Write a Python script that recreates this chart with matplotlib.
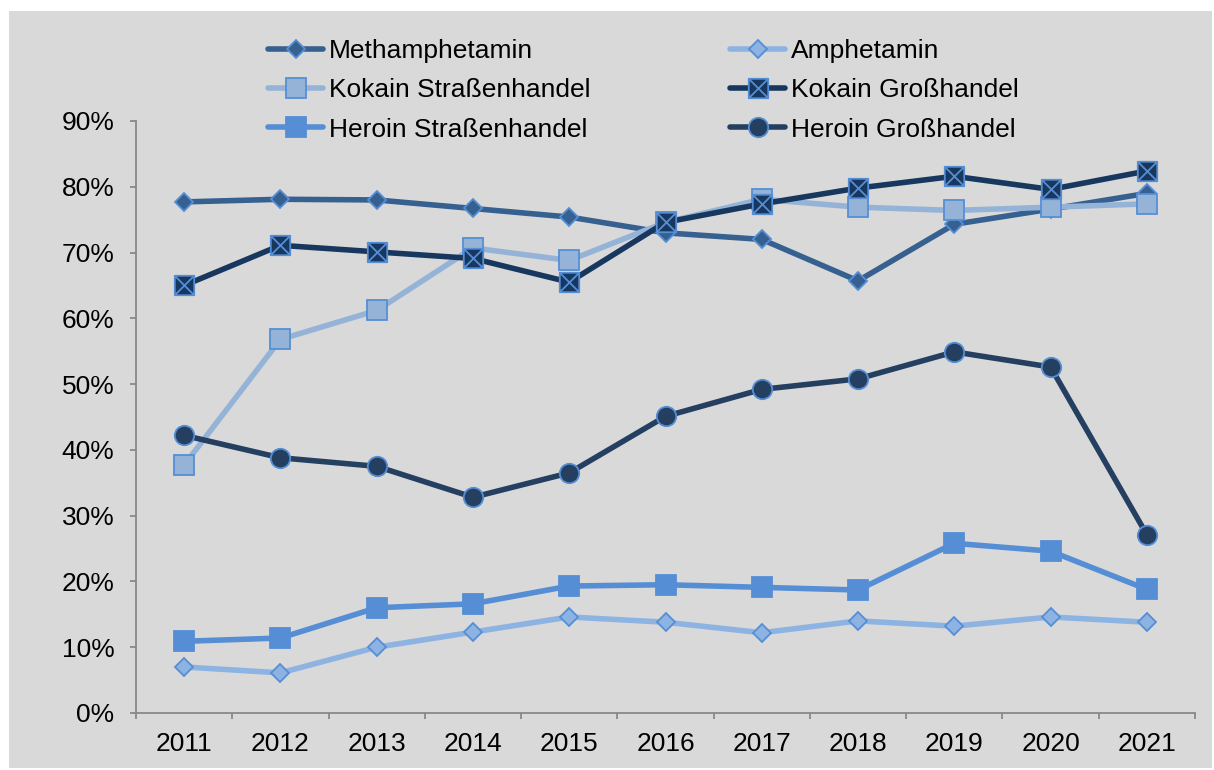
"""Purity of seized drugs 2011-2021 — line chart with six series."""
import matplotlib
matplotlib.use("Agg")
import matplotlib.pyplot as plt
from matplotlib.patches import Rectangle
from matplotlib.path import Path
from matplotlib.ticker import FuncFormatter

plt.rcParams["font.family"] = ["Liberation Sans", "DejaVu Sans"]

years = ["2011", "2012", "2013", "2014", "2015", "2016",
         "2017", "2018", "2019", "2020", "2021"]

methamphetamin = [77.7, 78.1, 78.0, 76.7, 75.4, 73.0, 72.0, 65.7, 74.3, 76.6, 79.0]
amphetamin = [7.0, 6.1, 10.0, 12.3, 14.6, 13.8, 12.2, 14.0, 13.2, 14.6, 13.8]
kokain_strasse = [37.7, 56.8, 61.2, 70.7, 68.8, 74.6, 78.1, 76.9, 76.4, 76.9, 77.4]
kokain_gross = [65.0, 71.1, 70.1, 69.1, 65.5, 74.6, 77.4, 79.8, 81.6, 79.6, 82.4]
heroin_strasse = [10.9, 11.4, 16.0, 16.6, 19.3, 19.5, 19.1, 18.7, 25.8, 24.6, 18.8]
heroin_gross = [42.2, 38.8, 37.5, 32.8, 36.5, 45.1, 49.2, 50.8, 54.9, 52.6, 27.1]

EDGE = "#558ed5"

# square with a cross through it (Kokain Großhandel marker)
_sq_x = Path(
    [(-1, -1), (1, -1), (1, 1), (-1, 1), (-1, -1),
     (-1, -1), (1, 1), (-1, 1), (1, -1)],
    [Path.MOVETO, Path.LINETO, Path.LINETO, Path.LINETO, Path.CLOSEPOLY,
     Path.MOVETO, Path.LINETO, Path.MOVETO, Path.LINETO],
)

series = [
    ("Methamphetamin", methamphetamin, "#35608f", "D", 9.5, "#35608f"),
    ("Amphetamin", amphetamin, "#8db3e2", "D", 9.5, "#8db3e2"),
    ("Kokain Straßenhandel", kokain_strasse, "#95b3d7", "s", 14, "#95b3d7"),
    ("Kokain Großhandel", kokain_gross, "#17375e", _sq_x, 14, "#17375e"),
    ("Heroin Straßenhandel", heroin_strasse, "#558ed5", "s", 14, "#558ed5"),
    ("Heroin Großhandel", heroin_gross, "#243f60", "o", 14, "#243f60"),
]

fig = plt.figure(figsize=(12.14, 7.70), dpi=100)
fig.patch.set_facecolor("white")
fig.patches.append(Rectangle((9 / 1214, 2 / 770), 1203 / 1214, 757 / 770,
                             transform=fig.transFigure, facecolor="#d9d9d9",
                             edgecolor="none", zorder=-10))

ax = fig.add_axes([136 / 1214, 1 - 713 / 770, 1059 / 1214, 592 / 770])
ax.set_facecolor("none")

x = list(range(len(years)))
handles = []
for label, vals, color, marker, ms, face in series:
    (ln,) = ax.plot(x, vals, color=color, lw=4.0, marker=marker, ms=ms,
                    mfc=face, mec=EDGE, mew=1.3, label=label,
                    solid_capstyle="round")
    handles.append(ln)

ax.set_xlim(-0.5, len(years) - 0.5)
ax.set_ylim(0, 90)
ax.set_yticks(range(0, 91, 10))
ax.yaxis.set_major_formatter(FuncFormatter(lambda v, _: f"{v:.0f}%"))

ax.set_xticks([i - 0.5 for i in range(len(years) + 1)])
ax.set_xticklabels([])
ax.set_xticks(x, minor=True)
ax.set_xticklabels(years, minor=True)

for side in ("top", "right"):
    ax.spines[side].set_visible(False)
for side in ("left", "bottom"):
    ax.spines[side].set_color("#898989")
    ax.spines[side].set_linewidth(1.3)

ax.tick_params(axis="both", which="major", direction="out", length=4.5,
               width=1.3, color="#898989", labelsize=19, pad=11)
ax.tick_params(axis="x", which="minor", length=0, labelsize=19, pad=14)

# legend fills row by row in the reference: reorder for column-major ncol=2
order = [0, 2, 4, 1, 3, 5]
fig.legend([handles[i] for i in order], [series[i][0] for i in order],
           loc="upper left", bbox_to_anchor=(268 / 1214, 1 - 39 / 770),
           ncol=2, frameon=False, fontsize=19, handlelength=2.1,
           handletextpad=0.2, columnspacing=5.3, labelspacing=0.58,
           borderpad=0, borderaxespad=0)

fig.savefig("out.png", dpi=100)
